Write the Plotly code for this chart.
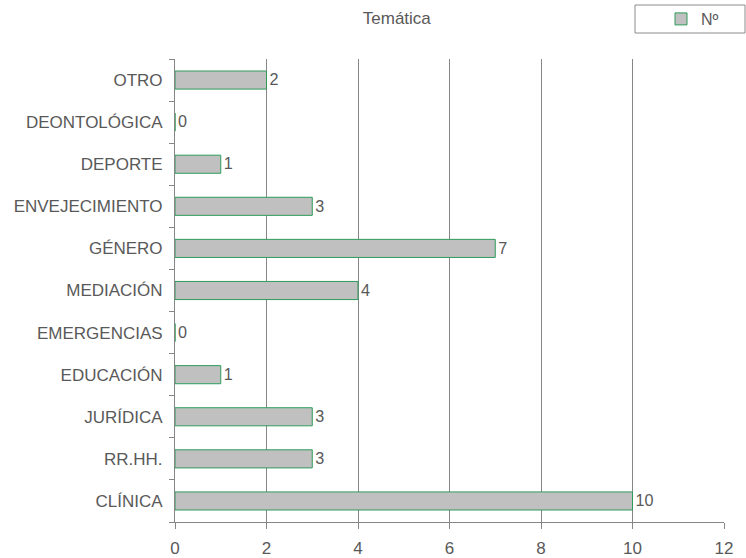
import plotly.graph_objects as go

# Themes, listed bottom to top as they appear on the axis
categories = ["CLÍNICA", "RR.HH.", "JURÍDICA", "EDUCACIÓN", "EMERGENCIAS",
              "MEDIACIÓN", "GÉNERO", "ENVEJECIMIENTO", "DEPORTE",
              "DEONTOLÓGICA", "OTRO"]
counts = [10, 3, 3, 1, 0, 4, 7, 3, 1, 0, 2]
x_ticks = [0, 2, 4, 6, 8, 10, 12]

FONT = "Liberation Sans, Arial, sans-serif"
GREY_TEXT = "#595959"
GRID = "#868686"
W, H = 746, 558

fig = go.Figure(
    go.Bar(
        y=categories,
        x=counts,
        orientation="h",
        name="Nº",
        marker=dict(color="#C0C0C0", line=dict(color="#2E9B5B", width=1)),
        text=[str(v) for v in counts],
        textposition="outside",
        textfont=dict(family=FONT, size=17, color=GREY_TEXT),
        cliponaxis=False,
    )
)

# frame around the legend entry
fig.add_shape(
    type="rect", xref="paper", yref="paper",
    x0=(635 - 175) / 549, x1=(745 - 175) / 549,
    y0=1 + (59 - 33) / 463, y1=1 + (59 - 5) / 463,
    line=dict(color="#8C8C8C", width=1), fillcolor="white", layer="below",
)

fig.update_layout(
    width=W,
    height=H,
    margin=dict(l=175, r=22, t=59, b=36, autoexpand=False),
    paper_bgcolor="white",
    plot_bgcolor="white",
    bargap=0.57,
    font=dict(family=FONT, size=17, color=GREY_TEXT),
    title=dict(
        text="Temática",
        x=0.404, xref="paper", xanchor="center",
        y=1 - 18 / H, yref="container", yanchor="middle",
        font=dict(family=FONT, size=17, color=GREY_TEXT),
    ),
    showlegend=True,
    legend=dict(
        x=(661 - 175) / 549, xanchor="left",
        y=1 - 19 / H, yref="container", yanchor="middle",
        borderwidth=0,
        bgcolor="rgba(0,0,0,0)",
        font=dict(family=FONT, size=16, color=GREY_TEXT),
        itemwidth=30,
    ),
    xaxis=dict(
        range=[0, 12],
        tickvals=x_ticks,
        ticktext=[str(t) for t in x_ticks],
        showgrid=True, gridcolor=GRID, gridwidth=1,
        showline=True, linecolor=GRID, linewidth=1,
        ticks="outside", ticklen=6, tickcolor=GRID,
        zeroline=False,
        automargin=False,
        ticklabelstandoff=5,
        tickfont=dict(family=FONT, size=17, color=GREY_TEXT),
    ),
    yaxis=dict(
        categoryorder="array", categoryarray=categories,
        showline=True, linecolor=GRID, linewidth=1,
        ticks="outside", ticklen=5, tickcolor=GRID,
        tickson="boundaries",
        showgrid=False,
        automargin=False,
        ticklabelstandoff=8,
        tickfont=dict(family=FONT, size=17, color=GREY_TEXT),
    ),
)

fig.write_html("out.html")
